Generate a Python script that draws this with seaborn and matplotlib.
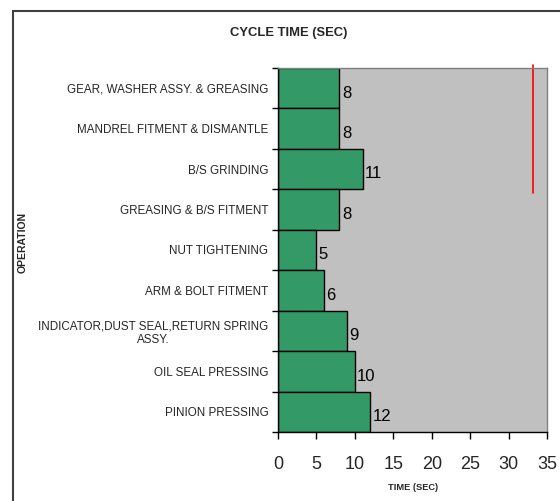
import matplotlib.pyplot as plt
import matplotlib.ticker as tik
from matplotlib.lines import Line2D
import seaborn as sns

#### data
operations = [
    "GEAR, WASHER ASSY. & GREASING",
    "MANDREL FITMENT & DISMANTLE",
    "B/S GRINDING",
    "GREASING & B/S FITMENT",
    "NUT TIGHTENING",
    "ARM & BOLT FITMENT",
    "INDICATOR,DUST SEAL,RETURN SPRING\nASSY.",
    "OIL SEAL PRESSING",
    "PINION PRESSING",
]
cycle_time = [8, 8, 11, 8, 5, 6, 9, 10, 12]
takt_time = 33.2
x_ticks = [0, 5, 10, 15, 20, 25, 30, 35]

sns.set_theme(style="white")
plt.rcParams['font.family'] = ['Liberation Sans', 'DejaVu Sans']

fig = plt.figure(figsize=(5.6, 5.01), dpi=100)
ax = fig.add_axes([278/560, 1-432/501, (547-278)/560, (432-68)/501])
ax.set_facecolor("#c0c0c0")

sns.barplot(x=cycle_time, y=operations, orient="h", width=1, color="#339966",
            saturation=1, edgecolor="black", linewidth=1, ax=ax)

# value labels
for i, v in enumerate(cycle_time):
    ax.text(v + 0.3, i + 0.12, str(v), fontsize=12, va="center", ha="left", color="black")

# red marker line
ax.axvline(takt_time, ymin=0.657, ymax=1.008, color="red", lw=1.2, clip_on=False)

ax.set_xlim(0, 35)
ax.set_ylim(len(operations)-0.5, -0.5)
ax.set_xticks(x_ticks)
ax.tick_params(axis="x", direction="out", length=5, width=1, color="black",
               labelsize=13, pad=12, bottom=True)
ax.tick_params(axis="y", which="major", length=0, labelsize=8.4, pad=7)
ax.yaxis.set_minor_locator(tik.FixedLocator([i - 0.5 for i in range(len(operations)+1)]))
ax.tick_params(axis="y", which="minor", direction="out", length=4, width=1, color="black", left=True)
for lab in ax.get_yticklabels():
    lab.set_multialignment("center")
    lab.set_linespacing(1.15)

for s in ["left", "bottom"]:
    ax.spines[s].set_color("black")
    ax.spines[s].set_linewidth(1)
for s in ["top", "right"]:
    ax.spines[s].set_color("#808080")
    ax.spines[s].set_linewidth(1)

ax.set_xlabel("")
ax.set_ylabel("")
fig.text(413/560, 1-488/501, "TIME (SEC)", fontsize=6.7, fontweight="bold",
         ha="center", va="center")
fig.text(23/560, 1-242/501, "OPERATION", rotation=90, fontsize=7.5, fontweight="bold",
         ha="center", va="center")
fig.text(289/560, 1-33/501, "CYCLE TIME (SEC)", fontsize=9.4, fontweight="bold",
         ha="center", va="center")

# outer chart border
fig.add_artist(Line2D([13/560, 13/560], [0, 1-11/501], color="#404040", lw=1.5))
fig.add_artist(Line2D([13/560, 1], [1-11/501, 1-11/501], color="#404040", lw=1.5))

plt.savefig("out.png", dpi=100)
